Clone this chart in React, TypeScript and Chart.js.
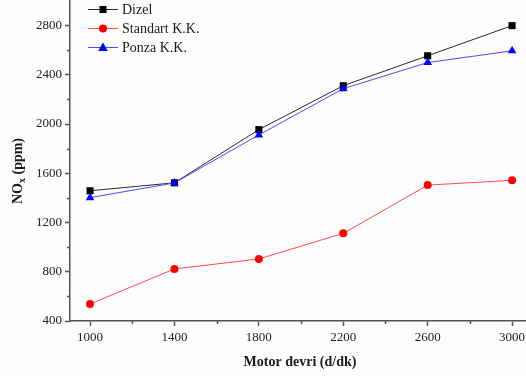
import React, { useEffect, useRef } from "react";
import { Chart, registerables } from "chart.js";

Chart.register(...registerables);

const rpm = [1000, 1400, 1800, 2200, 2600, 3000];
const dizel = [1458, 1523, 1955, 2312, 2555, 2800];
const standart = [538, 823, 904, 1112, 1504, 1543];
const ponza = [1402, 1522, 1912, 2288, 2500, 2595];
const yTicks = [400, 800, 1200, 1600, 2000, 2400, 2800];
const xTicks = [1000, 1400, 1800, 2200, 2600, 3000];
const yMinor = [600, 1000, 1400, 1800, 2200, 2600];
const xMinor = [1200, 1600, 2000, 2400, 2800];

const seriesNames = ["Dizel", "Standart K.K.", "Ponza K.K."];
const lineColors = ["#2a2a2a", "#ff4a4a", "#4a4aff"];
const pointColors = ["#000000", "#ff0000", "#0000ff"];
const pointStyles = ["rect", "circle", "triangle"] as const;
const pointRadii = [5, 4, 5];

const FONT = "'Liberation Serif', 'Times New Roman', serif";
const AXIS_COLOR = "#555555";

function drawMarker(
  ctx: CanvasRenderingContext2D,
  style: string,
  x: number,
  y: number,
  r: number
) {
  ctx.beginPath();
  if (style === "rect") {
    const s = Math.SQRT1_2 * r;
    ctx.rect(x - s, y - s, 2 * s, 2 * s);
  } else if (style === "circle") {
    ctx.arc(x, y, r, 0, Math.PI * 2);
  } else {
    const h = (r * 3) / Math.sqrt(3);
    ctx.moveTo(x, y - r);
    ctx.lineTo(x + h / 2 + 0.5, y + r / 2 + 1);
    ctx.lineTo(x - h / 2 - 0.5, y + r / 2 + 1);
    ctx.closePath();
  }
  ctx.fill();
}

const zeroPad = () => ({ left: 0, top: 0, right: 0, bottom: 0 });

export default function App() {
  const ref = useRef<HTMLCanvasElement | null>(null);

  useEffect(() => {
    document.body.style.margin = "0";
    const canvas = ref.current;
    if (!canvas) return;

    const extras = {
      id: "extras",
      afterDraw(chart: any) {
        const ctx = chart.ctx as CanvasRenderingContext2D;
        const xs = chart.scales.x;
        const ys = chart.scales.y;
        const area = chart.chartArea;
        ctx.save();
        ctx.strokeStyle = AXIS_COLOR;
        ctx.lineWidth = 1.5;
        ctx.beginPath();
        for (const v of yMinor) {
          const py = Math.round(ys.getPixelForValue(v)) + 0.5;
          ctx.moveTo(area.left - 3, py);
          ctx.lineTo(area.left, py);
        }
        for (const v of xMinor) {
          const px = Math.round(xs.getPixelForValue(v)) + 0.5;
          ctx.moveTo(px, area.bottom);
          ctx.lineTo(px, area.bottom + 3);
        }
        ctx.stroke();

        ctx.fillStyle = "#1a1a1a";
        ctx.font = `bold 14px ${FONT}`;
        ctx.textAlign = "center";
        ctx.textBaseline = "middle";
        ctx.fillText("Motor devri (d/dk)", 300, 362);

        ctx.translate(18, 171);
        ctx.rotate(-Math.PI / 2);
        const bigFont = `bold 14px ${FONT}`;
        const smallFont = `bold 10px ${FONT}`;
        ctx.font = bigFont;
        const w1 = ctx.measureText("NO").width;
        const w3 = ctx.measureText(" (ppm)").width;
        ctx.font = smallFont;
        const w2 = ctx.measureText("x").width;
        const total = w1 + w2 + w3;
        let x0 = -total / 2;
        ctx.textAlign = "left";
        ctx.textBaseline = "middle";
        ctx.font = bigFont;
        ctx.fillText("NO", x0, 0);
        x0 += w1;
        ctx.font = smallFont;
        ctx.fillText("x", x0, 4);
        x0 += w2;
        ctx.font = bigFont;
        ctx.fillText(" (ppm)", x0, 0);
        ctx.restore();

        ctx.save();
        const rows = [9, 28, 47];
        for (let i = 0; i < seriesNames.length; i++) {
          const y = rows[i];
          ctx.strokeStyle = lineColors[i];
          ctx.lineWidth = 1;
          ctx.beginPath();
          ctx.moveTo(88, y + 0.5);
          ctx.lineTo(118, y + 0.5);
          ctx.stroke();
          ctx.fillStyle = pointColors[i];
          drawMarker(ctx, pointStyles[i], 103, y + 0.5, pointRadii[i]);
          ctx.fillStyle = "#1a1a1a";
          ctx.font = `14px ${FONT}`;
          ctx.textAlign = "left";
          ctx.textBaseline = "middle";
          ctx.fillText(seriesNames[i], 122, y + 1);
        }
        ctx.restore();
      },
    };

    const datasets = [dizel, standart, ponza].map((data, i) => ({
      label: seriesNames[i],
      data: rpm.map((x, j) => ({ x, y: data[j] })),
      borderColor: lineColors[i],
      backgroundColor: pointColors[i],
      pointBackgroundColor: pointColors[i],
      pointBorderColor: pointColors[i],
      pointStyle: pointStyles[i],
      pointRadius: pointRadii[i],
      pointBorderWidth: 0,
      borderWidth: 1,
      tension: 0,
      clip: false,
      order: i === 2 ? 0 : i === 0 ? 1 : 2,
    }));

    const chart = new Chart(canvas, {
      type: "line",
      data: { datasets } as any,
      options: {
        responsive: false,
        animation: false,
        layout: { autoPadding: false, padding: { top: 1, right: 0, left: 0, bottom: 0 } },
        plugins: {
          legend: { display: false },
          tooltip: { enabled: false },
        },
        scales: {
          x: {
            type: "linear",
            min: 905,
            max: 3066,
            afterBuildTicks: (s: any) => {
              s.ticks = xTicks.map((v) => ({ value: v }));
            },
            afterFit: (s: any) => {
              s.height = 55;
              s.paddingLeft = 0;
              s.paddingRight = 0;
              s.getPadding = zeroPad;
            },
            border: { color: AXIS_COLOR, width: 1.5 },
            grid: {
              drawOnChartArea: false,
              drawTicks: true,
              tickLength: 5,
              tickColor: AXIS_COLOR,
              tickWidth: 1.5,
            },
            ticks: {
              color: "#222",
              font: { family: FONT, size: 13 },
              padding: 4,
              maxRotation: 0,
              autoSkip: false,
              callback: (v: any) => String(v),
            },
          },
          y: {
            type: "linear",
            min: 400,
            max: 3000,
            afterBuildTicks: (s: any) => {
              s.ticks = yTicks.map((v) => ({ value: v }));
            },
            afterFit: (s: any) => {
              s.width = 70;
              s.paddingTop = 0;
              s.paddingBottom = 0;
              s.getPadding = zeroPad;
            },
            border: { color: AXIS_COLOR, width: 1.5 },
            grid: {
              drawOnChartArea: false,
              drawTicks: true,
              tickLength: 5,
              tickColor: AXIS_COLOR,
              tickWidth: 1.5,
            },
            ticks: {
              color: "#222",
              font: { family: FONT, size: 13 },
              padding: 3,
              autoSkip: false,
              callback: (v: any) => String(v),
            },
          },
        },
      },
      plugins: [extras],
    } as any);

    return () => chart.destroy();
  }, []);

  return (
    <div style={{ position: "absolute", left: 0, top: 0, width: 526, height: 376, background: "#fdfdfd" }}>
      <canvas ref={ref} width={526} height={376} style={{ display: "block" }} />
    </div>
  );
}
